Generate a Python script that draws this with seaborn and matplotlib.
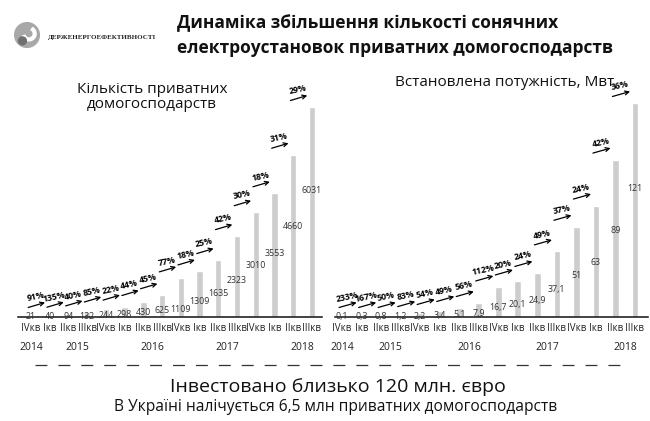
import matplotlib
matplotlib.use("Agg")
import matplotlib.pyplot as plt
from matplotlib.lines import Line2D
from matplotlib.patches import Circle, Wedge
import seaborn as sns
import pandas as pd

# ---------------- data ----------------
quarters = ["IVкв", "Iкв", "IIкв", "IIIкв", "IVкв", "Iкв", "IIкв", "IIIкв",
            "IVкв", "Iкв", "IIкв", "IIIкв", "IVкв", "Iкв", "IIкв", "IIIкв"]
years = ["2014", "2015", "2016", "2017", "2018"]
year_first_quarter = [0, 1, 5, 9, 13]

households = [21, 40, 94, 132, 244, 298, 430, 625, 1109, 1309, 1635, 2323,
              3010, 3553, 4660, 6031]
households_labels = [str(v) for v in households]
households_growth = [91, 135, 40, 85, 22, 44, 45, 77, 18, 25, 42, 30, 18, 31, 29]

capacity = [0.1, 0.3, 0.8, 1.2, 2.2, 3.4, 5.1, 7.9, 16.7, 20.1, 24.9, 37.1,
            51, 63, 89, 121]
capacity_labels = ["0,1", "0,3", "0,8", "1,2", "2,2", "3,4", "5,1", "7,9",
                   "16,7", "20,1", "24,9", "37,1", "51", "63", "89", "121"]
capacity_growth = [233, 167, 50, 83, 54, 49, 56, 112, 20, 24, 49, 37, 24, 42, 36]

title_lines = ["Динаміка збільшення кількості сонячних",
               "електроустановок приватних домогосподарств"]
left_title = "Кількість приватних\nдомогосподарств"
right_title = "Встановлена потужність, Мвт"
bottom_main = "Інвестовано близько 120 млн. євро"
bottom_sub = "В Україні налічується 6,5 млн приватних домогосподарств"
logo_text = "ДЕРЖЕНЕРГОЕФЕКТИВНОСТІ"

# ---------------- style ----------------
sns.set_style("white")
FONT = ["Open Sans", "DejaVu Sans"]
plt.rcParams["font.family"] = FONT

W, H = 650, 421
fig = plt.figure(figsize=(W / 100, H / 100), dpi=100)
fig.patch.set_facecolor("white")


def fx(px):
    return px / W


def fy(py):
    return 1 - py / H


BASE = 317
TOP = 60
AX_H = BASE - TOP
BAR_COLOR = "#cdcdcd"
VAL_FS = 6.4


def label_width(s):
    em = VAL_FS * 100 / 72
    return sum((0.27 if c == "," else 0.572) * em for c in s)


def panel(left_px, right_px, first_px, step_px, px_per_unit, vals, vlabels, growth):
    ax = fig.add_axes([fx(left_px), fy(BASE), (right_px - left_px) / W, AX_H / H])
    df = pd.DataFrame({"pos": list(range(len(vals))), "val": vals})
    sns.barplot(data=df, x="pos", y="val", color=BAR_COLOR, saturation=1,
                width=0.34, ax=ax)
    x_lo = -(first_px - left_px) / step_px
    x_hi = x_lo + (right_px - left_px) / step_px
    ax.set_xlim(x_lo, x_hi)
    top_units = AX_H / px_per_unit
    ax.set_ylim(0, top_units)
    for s in ["top", "left", "right"]:
        ax.spines[s].set_visible(False)
    ax.spines["bottom"].set_color("#111111")
    ax.spines["bottom"].set_linewidth(1.1)
    ax.set_yticks([])
    ax.set_xlabel("")
    ax.set_ylabel("")
    ax.set_xticks(range(len(vals)))
    ax.set_xticklabels(quarters, fontsize=7, color="#222222")
    ax.tick_params(axis="x", length=0, pad=4)
    ax.patch.set_alpha(0)

    vmax = max(vals)
    u = 1.0 / px_per_unit  # one pixel in data units

    # value label heights (in px above the baseline), inside the bars
    ypx = [v * px_per_unit * 0.6 * (v / vmax) ** 0.3 for v in vals]
    for i in range(len(vals) - 2, -1, -1):
        half = (label_width(vlabels[i]) + label_width(vlabels[i + 1])) / 2
        if half > step_px - 0.5:
            ypx[i] = max(0.0, min(ypx[i], ypx[i + 1] - 8))
    for i, lab in enumerate(vlabels):
        ax.text(i, ypx[i] * u, lab, ha="center", va="center",
                fontsize=VAL_FS, color="#333333", zorder=5)

    # growth arrows
    for k in range(1, len(vals)):
        y = max(vals[k] + 9 * u, 12 * u)
        x0, x1 = k - 1.15, k - 0.25
        ax.annotate("", xy=(x1, y + 2.5 * u), xytext=(x0, y - 2.5 * u),
                    arrowprops=dict(arrowstyle="->", lw=0.9, color="black",
                                    shrinkA=0, shrinkB=0, mutation_scale=7),
                    annotation_clip=False)
        ax.text((x0 + x1) / 2 - 0.05, y + 8 * u, f"{growth[k - 1]}%",
                ha="center", va="center", rotation=12, fontsize=6.3,
                fontweight="bold", color="black", clip_on=False)

    trans = ax.get_xaxis_transform()
    for j, (yr, fq) in enumerate(zip(years, year_first_quarter)):
        pos = fq if j == 0 else fq + 1.5
        ax.text(pos, -31 / AX_H, yr, transform=trans, ha="center", va="center",
                fontsize=7.5, color="#222222")
    return ax


panel(18, 322, 31, 18.73, 210 / 6031, households, households_labels, households_growth)
panel(335, 648, 342, 19.53, 214 / 121, capacity, capacity_labels, capacity_growth)

# panel titles
fig.text(fx(152), fy(97), left_title, ha="center", va="center", fontsize=11,
         color="#111111", linespacing=0.95)
fig.text(fx(505), fy(82), right_title, ha="center", va="center", fontsize=11,
         color="#111111")

# main title
fig.text(fx(177), fy(23), title_lines[0], ha="left", va="center", fontsize=12.5,
         fontweight="bold", color="#111111")
fig.text(fx(177), fy(48), title_lines[1], ha="left", va="center", fontsize=12.5,
         fontweight="bold", color="#111111")

# logo
lax = fig.add_axes([fx(14), fy(48), 26 / W, 26 / H])
lax.set_xlim(-1, 1)
lax.set_ylim(-1, 1)
lax.set_aspect("equal")
lax.axis("off")
lax.add_patch(Circle((0, 0), 0.95, color="#a8a8a8"))
lax.add_patch(Wedge((0.15, 0.1), 0.55, 200, 60, width=0.22, color="white"))
lax.add_patch(Circle((-0.35, -0.45), 0.3, color="#6f6f6f"))
fig.text(fx(48), fy(37), logo_text, ha="left", va="center", fontsize=5.0,
         family=["Liberation Serif", "DejaVu Serif"], fontweight="bold",
         color="#222222")

# dashed separator
lw = 0.9
fig.add_artist(Line2D([fx(35), fx(627)], [fy(365), fy(365)], transform=fig.transFigure,
                      color="#333333", lw=lw,
                      linestyle=(0, (8.6 / lw, 7.9 / lw))))

# bottom texts
fig.text(fx(338), fy(387), bottom_main, ha="center", va="center", fontsize=14,
         color="#111111")
fig.text(fx(336), fy(407), bottom_sub, ha="center", va="center", fontsize=11.2,
         color="#111111")

fig.savefig("out.png", dpi=100, facecolor="white")
